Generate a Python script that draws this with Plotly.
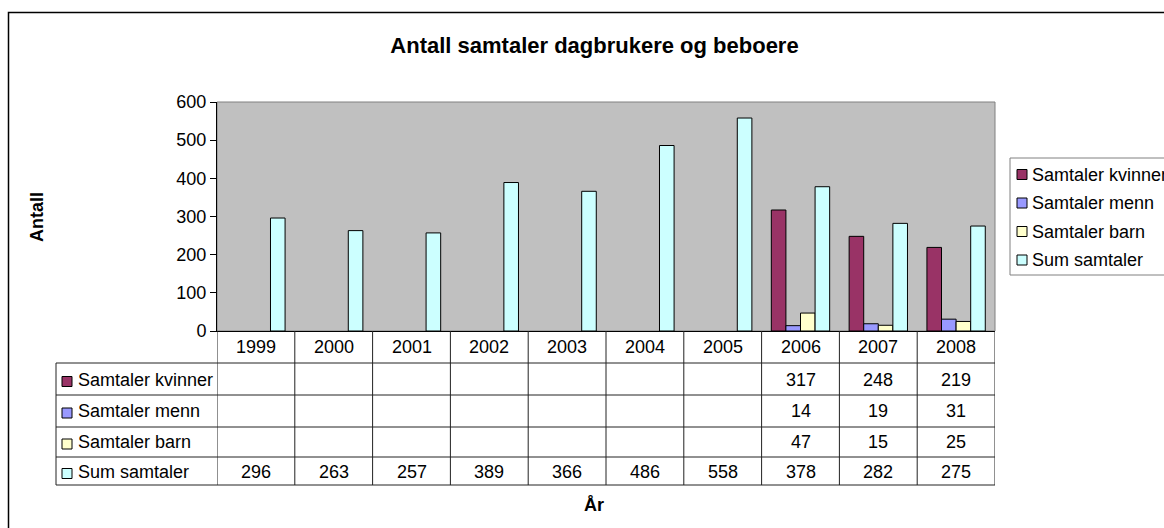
import plotly.graph_objects as go

years = ["1999", "2000", "2001", "2002", "2003", "2004", "2005", "2006", "2007", "2008"]
series_names = ["Samtaler kvinner", "Samtaler menn", "Samtaler barn", "Sum samtaler"]
kvinner = [None, None, None, None, None, None, None, 317, 248, 219]
menn = [None, None, None, None, None, None, None, 14, 19, 31]
barn = [None, None, None, None, None, None, None, 47, 15, 25]
sum_samtaler = [296, 263, 257, 389, 366, 486, 558, 378, 282, 275]
series_values = [kvinner, menn, barn, sum_samtaler]
colors = ["#993366", "#9999FF", "#FFFFCC", "#CCFFFF"]
y_ticks = [0, 100, 200, 300, 400, 500, 600]

W, H = 1164, 528
PLOT_L, PLOT_R, PLOT_T, PLOT_B = 217, 995, 102, 331
L = PLOT_L
T = PLOT_T
R = W - PLOT_R
B = H - PLOT_B
PW = PLOT_R - PLOT_L
PH = PLOT_B - PLOT_T
FONT = "Liberation Sans, Arial, sans-serif"
FS = 18


def px2x(px):
    return (px - PLOT_L) / PW


def py2y(py):
    return (PLOT_B - py) / PH


fig = go.Figure()
for name, vals, col in zip(series_names, series_values, colors):
    fig.add_trace(go.Bar(
        x=years, y=vals, name=name,
        marker=dict(color=col, line=dict(color="black", width=1)),
        showlegend=False,
    ))

shapes = []
annotations = []

# plot area frame (grey top/right)
shapes.append(dict(type="rect", xref="paper", yref="paper", x0=0, x1=1, y0=0, y1=1,
                   line=dict(color="#808080", width=1), layer="below"))

# outer chart border
shapes.append(dict(type="rect", xref="paper", yref="paper",
                   x0=px2x(8.5), x1=px2x(1230), y0=py2y(570), y1=py2y(12.5),
                   line=dict(color="black", width=1.5)))

# data table geometry
row_tops = [363, 395, 427, 457, 485]
row_centers = [379.5, 411, 442, 471.5]
year_center = 347
hdr_left = 56


def txt(**kw):
    d = dict(showarrow=False, xanchor="center", yanchor="middle",
             font=dict(size=FS, color="black", family=FONT))
    d.update(kw)
    return d


for yy in row_tops:
    shapes.append(dict(type="line", xref="paper", yref="paper",
                       x0=px2x(hdr_left), x1=1, y0=py2y(yy), y1=py2y(yy),
                       line=dict(color="#222222", width=1)))
shapes.append(dict(type="line", xref="paper", yref="paper",
                   x0=px2x(hdr_left), x1=px2x(hdr_left), y0=py2y(363), y1=py2y(485),
                   line=dict(color="#222222", width=1)))
for i in range(len(years) + 1):
    shapes.append(dict(type="line", xref="x", yref="paper",
                       x0=i - 0.5, x1=i - 0.5, y0=py2y(331), y1=py2y(485),
                       line=dict(color="#222222", width=1)))

# year row
for i, yr in enumerate(years):
    annotations.append(txt(xref="x", yref="paper", x=i, y=py2y(year_center), text=yr))

# series rows
for r, (name, vals, col) in enumerate(zip(series_names, series_values, colors)):
    yc = row_centers[r]
    shapes.append(dict(type="rect", xref="paper", yref="paper",
                       x0=px2x(62), x1=px2x(72), y0=py2y(yc + 7), y1=py2y(yc - 3),
                       fillcolor=col, line=dict(color="black", width=1)))
    annotations.append(txt(xref="paper", yref="paper", x=px2x(76), y=py2y(yc), text=name,
                           xanchor="left"))
    for i, v in enumerate(vals):
        if v is not None:
            annotations.append(txt(xref="x", yref="paper", x=i, y=py2y(yc), text=str(v)))

# legend (drawn manually)
leg_top, leg_bot = 158, 275
shapes.append(dict(type="rect", xref="paper", yref="paper",
                   x0=px2x(1010), x1=px2x(1230), y0=py2y(leg_bot), y1=py2y(leg_top),
                   line=dict(color="#808080", width=1), fillcolor="white"))
leg_centers = [174.5, 203, 231.5, 260]
for name, col, yc in zip(series_names, colors, leg_centers):
    shapes.append(dict(type="rect", xref="paper", yref="paper",
                       x0=px2x(1017), x1=px2x(1027), y0=py2y(yc + 5), y1=py2y(yc - 5),
                       fillcolor=col, line=dict(color="black", width=1)))
    annotations.append(txt(xref="paper", yref="paper", x=px2x(1030), y=py2y(yc), text=name,
                           xanchor="left"))

# axis titles
annotations.append(txt(xref="paper", yref="paper", x=px2x(37), y=py2y(217),
                       text="<b>Antall</b>", textangle=-90))
annotations.append(txt(xref="paper", yref="paper", x=px2x(594), y=py2y(505),
                       text="<b>År</b>"))

fig.update_layout(
    width=W, height=H,
    margin=dict(l=L, r=R, t=T, b=B, autoexpand=False),
    paper_bgcolor="white", plot_bgcolor="#C0C0C0",
    title=dict(text="<b>Antall samtaler dagbrukere og beboere</b>",
               x=px2x(594.5), xref="paper", xanchor="center",
               y=1 - 45 / H, yref="container", yanchor="middle",
               font=dict(size=22, color="black", family=FONT)),
    barmode="group", bargap=0.25, bargroupgap=0,
    showlegend=False,
    font=dict(family=FONT, size=FS, color="black"),
    xaxis=dict(type="category", showticklabels=False, ticks="", showgrid=False,
               showline=True, linecolor="black", linewidth=1, zeroline=False,
               range=[-0.5, len(years) - 0.5]),
    yaxis=dict(range=[0, 600], tickvals=y_ticks, ticks="outside", ticklen=6,
               tickcolor="black", showgrid=False, showline=True, linecolor="black",
               linewidth=1, zeroline=False, tickfont=dict(size=FS, color="black", family=FONT)),
    shapes=shapes, annotations=annotations,
)

fig.write_html("out.html",
               config={"displayModeBar": False},
               post_script="document.body.style.margin='0';document.body.style.overflow='hidden';")
